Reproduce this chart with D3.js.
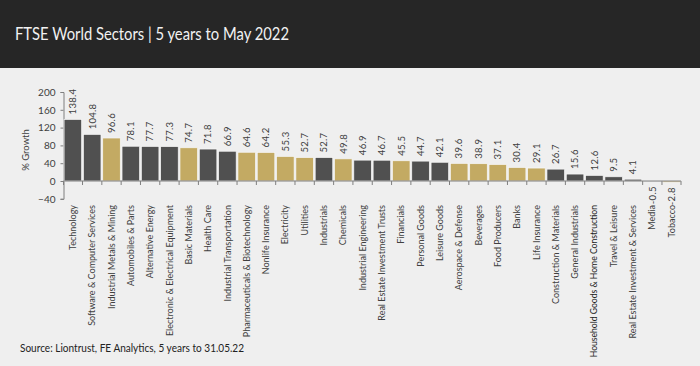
<!DOCTYPE html>
<html><head><meta charset="utf-8">
<script src="https://cdn.jsdelivr.net/npm/d3@7"></script>
<style>
html,body{margin:0;padding:0;background:#efefef;}
svg{display:block;}
text{font-family:Lato,"Open Sans",sans-serif;}
</style></head>
<body>
<svg id="c" width="700" height="366"></svg>
<script>
const categories = ["Technology","Software & Computer Services","Industrial Metals & Mining","Automobiles & Parts","Alternative Energy","Electronic & Electrical Equipment","Basic Materials","Health Care","Industrial Transportation","Pharmaceuticals & Biotechnology","Nonlife Insurance","Electricity","Utilities","Industrials","Chemicals","Industrial Engineering","Real Estate Investment Trusts","Financials","Personal Goods","Leisure Goods","Aerospace & Defense","Beverages","Food Producers","Banks","Life Insurance","Construction & Materials","General Industrials","Household Goods & Home Construction","Travel & Leisure","Real Estate Investment & Services","Media","Tobacco"];
const values = [138.4,104.8,96.6,78.1,77.7,77.3,74.7,71.8,66.9,64.6,64.2,55.3,52.7,52.7,49.8,46.9,46.7,45.5,44.7,42.1,39.6,38.9,37.1,30.4,29.1,26.7,15.6,12.6,9.5,4.1,-0.5,-2.8];
// group: "d" = dark grey, "g" = gold highlight
const groups = ["d","d","g","d","d","d","g","d","d","g","g","g","g","d","g","d","d","g","d","d","g","g","g","g","g","d","d","d","d","d","d","g"];
const yTicks = [200,160,120,80,40,0,-40];
const title = "FTSE World Sectors | 5 years to May 2022";
const source = "Source: Liontrust, FE Analytics, 5 years to 31.05.22";
const yLabel = "% Growth";
const altFontLabels = ["Household Goods & Home Construction"];

const svg = d3.select("#c");
const colors = {d:"#505050", g:"#c3aa63"};

svg.append("rect").attr("x",0).attr("y",0).attr("width",700).attr("height",366).attr("fill","#efefef");
svg.append("rect").attr("x",0).attr("y",0).attr("width",700).attr("height",68).attr("fill","#262626");
svg.append("text").attr("x",15).attr("y",40).attr("fill","#f2f2f2")
  .attr("font-size",18).attr("textLength",274).attr("lengthAdjust","spacingAndGlyphs").text(title);

const x = d3.scaleBand().domain(categories).range([63.5,681]).paddingInner(0.09).paddingOuter(0.03);
const y = d3.scaleLinear().domain([-40,200]).range([198.8,92]);

// y axis
const ya = svg.append("g").attr("transform","translate(63.5,0)")
  .call(d3.axisLeft(y).tickValues(yTicks).tickSize(3).tickPadding(5));
ya.select(".domain").attr("stroke","#7f7f7f");
ya.selectAll(".tick line").attr("stroke","#7f7f7f");
ya.selectAll(".tick text").attr("fill","#404040").attr("font-size",10).attr("font-family","Lato,sans-serif");

svg.append("text").attr("transform","translate(29,150) rotate(-90)")
  .attr("text-anchor","middle").attr("font-size",9.5).attr("fill","#404040").text(yLabel);

// bars
const data = categories.map((c,i)=>({c, v:values[i], g:groups[i]}));
svg.append("g").selectAll("rect").data(data).join("rect")
  .attr("x",d=>x(d.c)).attr("width",x.bandwidth())
  .attr("y",d=>y(Math.max(0,d.v))).attr("height",d=>Math.abs(y(d.v)-y(0)))
  .attr("fill",d=>colors[d.g]).attr("stroke","#f7f7f7").attr("stroke-width",0.7);

// x axis line at zero with ticks between categories
const z = y(0);
svg.append("line").attr("x1",63.5).attr("x2",681).attr("y1",z).attr("y2",z).attr("stroke","#7f7f7f");
const step = x.step();
const bounds = d3.range(categories.length+1).map(i=> i===0?63.5 : (i===categories.length?681: x(categories[i]) - (step - x.bandwidth())/2));
svg.append("g").selectAll("line").data(bounds).join("line")
  .attr("x1",d=>d).attr("x2",d=>d).attr("y1",z).attr("y2",z+4).attr("stroke","#7f7f7f");

// value labels
svg.append("g").selectAll("text").data(data).join("text")
  .attr("transform",d=>{
    const cx = x(d.c)+x.bandwidth()/2;
    const yy = d.v>=0 ? y(d.v)-5 : y(d.v)+5;
    return `translate(${cx},${yy}) rotate(-90)`;
  })
  .attr("text-anchor",d=>d.v>=0?"start":"end")
  .attr("dy","0.35em").attr("font-size",9.5).attr("letter-spacing",0.3).attr("fill","#404040")
  .text(d=>d.v.toFixed(1));

// category labels
svg.append("g").selectAll("text").data(data).join("text")
  .attr("transform",d=>`translate(${x(d.c)+x.bandwidth()/2},205) rotate(-90)`)
  .attr("text-anchor","end").attr("dy","0.35em")
  .attr("font-size",d=>altFontLabels.includes(d.c)?8.6:9)
  .attr("font-family",d=>altFontLabels.includes(d.c)?"'Liberation Sans',Arial,sans-serif":null)
  .attr("fill",d=>altFontLabels.includes(d.c)?"#1a1a1a":"#404040")
  .text(d=>d.c);

svg.append("text").attr("x",20).attr("y",352).attr("font-size",11).attr("textLength",224).attr("lengthAdjust","spacingAndGlyphs").attr("fill","#222").text(source);
</script>
</body></html>
